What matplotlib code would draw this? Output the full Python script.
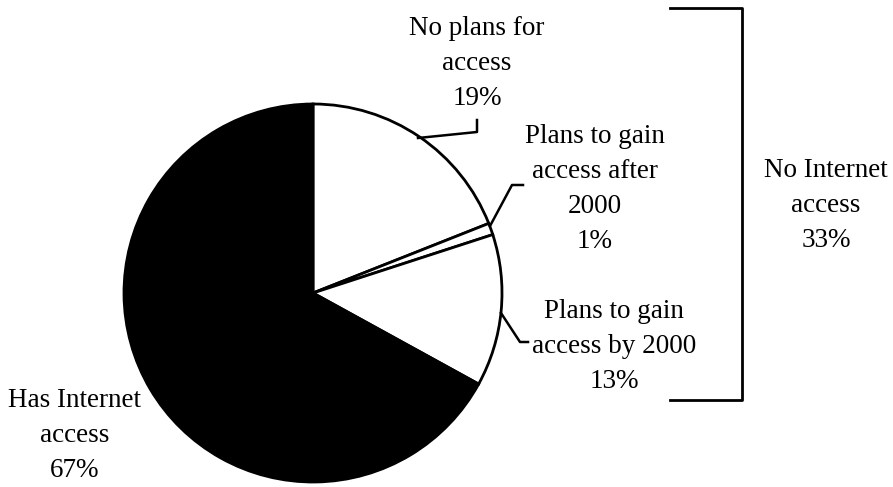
import matplotlib
matplotlib.use("Agg")
import matplotlib.pyplot as plt

# slice data, clockwise from 12 o'clock
labels = ["No plans for\naccess", "Plans to gain\naccess after\n2000",
          "Plans to gain\naccess by 2000", "Has Internet\naccess"]
shares = [19, 1, 13, 67]
colors = ["white", "white", "white", "black"]
group_label = "No Internet\naccess"
group_share = sum(shares[:3])

W, H = 893, 487
plt.rcParams['font.family'] = ['Liberation Serif', 'DejaVu Serif']

fig = plt.figure(figsize=(W / 100, H / 100), dpi=100)
ax = fig.add_axes([0, 0, 1, 1])
ax.set_xlim(0, W)
ax.set_ylim(0, H)
ax.set_aspect('equal')
ax.axis('off')

cx, cy, r = 313, H - 293, 189
ax.pie(shares, colors=colors, startangle=90, counterclock=False,
       center=(cx, cy), radius=r,
       wedgeprops=dict(edgecolor='black', linewidth=2))
ax.set_xlim(0, W)
ax.set_ylim(0, H)

fs = 19.5
ls = 1.53

def label(x, y, txt, pct):
    # y is the baseline of the last line, in image pixels
    ax.text(x, H - y, f"{txt}\n{pct}%", ha='center', va='baseline',
            fontsize=fs, linespacing=ls, multialignment='center', zorder=5)

label(477, 105, labels[0], shares[0])
label(595, 248, labels[1], shares[1])
label(614, 388, labels[2], shares[2])
label(75, 477, labels[3], shares[3])
label(826, 247, group_label, group_share)

# leader lines
lk = dict(color='black', linewidth=1.8)
ax.plot([418, 477, 477], [H - 138, H - 132, H - 120], **lk)
ax.plot([490, 512, 523], [H - 226, H - 185, H - 185], **lk)
ax.plot([501, 520, 528], [H - 313, H - 342, H - 342], **lk)

# bracket around the three "no access" slices
ax.plot([670, 742, 742, 670], [H - 8, H - 8, H - 400, H - 400],
        color='black', linewidth=2)

fig.savefig("out.png", dpi=100)
